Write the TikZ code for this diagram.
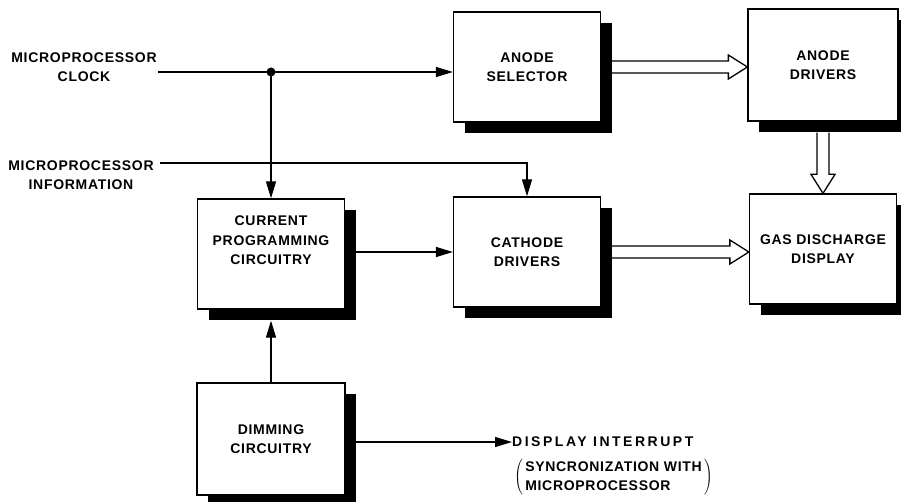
\documentclass[tikz,border=0pt]{standalone}
\usepackage{fontspec}
\setmainfont{Liberation Sans}[LetterSpace=5]
\usetikzlibrary{arrows.meta,calc,shadows}

\begin{document}
\begin{tikzpicture}[x=1pt,y=-1pt,
    blk/.style={draw, fill=white, line width=1.3pt, minimum width=147pt, minimum height=110pt,
        align=center, font=\fontsize{14}{19.5}\selectfont\bfseries,
        drop shadow={shadow xshift=11pt, shadow yshift=-11pt, fill=black, opacity=1}},
    sig/.style={line width=1.3pt, -{Triangle[length=17pt,width=10pt]}},
    hollow/.style={line width=1.3pt, line join=miter},
    lbl/.style={align=center, font=\fontsize{14}{19}\selectfont\bfseries, inner sep=0pt}]
    \useasboundingbox (0,0) rectangle (901,502);

    \node[blk] (sel)  at (527,67)  {ANODE\\SELECTOR};
    \node[blk, minimum width=150pt, minimum height=112pt] (adrv) at (823,65) {ANODE\\DRIVERS};
    \node[blk] (gas)  at (823,249) {GAS DISCHARGE\\DISPLAY};
    \node[blk] (cath) at (527,252) {CATHODE\\DRIVERS};
    \node[blk] (cur)  at (271,254) {CURRENT\\PROGRAMMING\\CIRCUITRY\\[8pt]};
    \node[blk, minimum width=148pt, minimum height=112pt] (dim) at (271,439) {DIMMING\\CIRCUITRY};

    \node[lbl] (lclk) at (84,67)  {MICROPROCESSOR\\CLOCK};
    \node[lbl] (linf) at (81,175) {MICROPROCESSOR\\INFORMATION};
    \coordinate (clkin) at (158,72);
    \coordinate (infin) at (160,163);
    \coordinate (tap) at (271,72);

    \node[lbl, anchor=west, font=\fontsize{14}{19}\selectfont\bfseries\addfontfeatures{LetterSpace=18}] (intr) at (512,442) {DISPLAY INTERRUPT};
    \node[anchor=north west, inner sep=0pt, font=\fontsize{14}{19}\selectfont\bfseries] (sync) at (514,458)
        {$\left(\begin{tabular}{@{\,}l@{\,}}SYNCRONIZATION WITH\\MICROPROCESSOR\end{tabular}\right)$};

    \draw[sig] (clkin) -- (clkin -| sel.west);
    \fill (tap) circle (4.5);
    \draw[sig] (tap) -- (tap |- cur.north);
    \draw[sig] (infin) -| (cath.north);
    \draw[sig] (cur.east |- cath.west) -- (cath.west);
    \draw[sig] (dim.north) -- ($(cur.south)+(0,11)$);
    \draw[sig] (intr.west -| dim.east) -- (intr.west);

    \coordinate (h1a) at ($(sel.east)+(11,0)$);
    \coordinate (h1b) at (adrv.west |- sel.east);
    \draw[hollow] ($(h1a)+(0,-6)$) -- ($(h1b)+(-19,-6)$) -- ($(h1b)+(-19,-12)$) -- (h1b)
        -- ($(h1b)+(-19,12)$) -- ($(h1b)+(-19,6)$) -- ($(h1a)+(0,6)$);

    \coordinate (h2a) at ($(cath.east)+(11,0)$);
    \coordinate (h2b) at (gas.west |- cath.east);
    \draw[hollow] ($(h2a)+(0,-6)$) -- ($(h2b)+(-19,-6)$) -- ($(h2b)+(-19,-12)$) -- (h2b)
        -- ($(h2b)+(-19,12)$) -- ($(h2b)+(-19,6)$) -- ($(h2a)+(0,6)$);

    \coordinate (h3a) at ($(adrv.south)+(0,11)$);
    \coordinate (h3b) at (gas.north);
    \draw[hollow] ($(h3a)+(-6,0)$) -- ($(h3b)+(-6,-19)$) -- ($(h3b)+(-12,-19)$) -- (h3b)
        -- ($(h3b)+(12,-19)$) -- ($(h3b)+(6,-19)$) -- ($(h3a)+(6,0)$);
\end{tikzpicture}
\end{document}
